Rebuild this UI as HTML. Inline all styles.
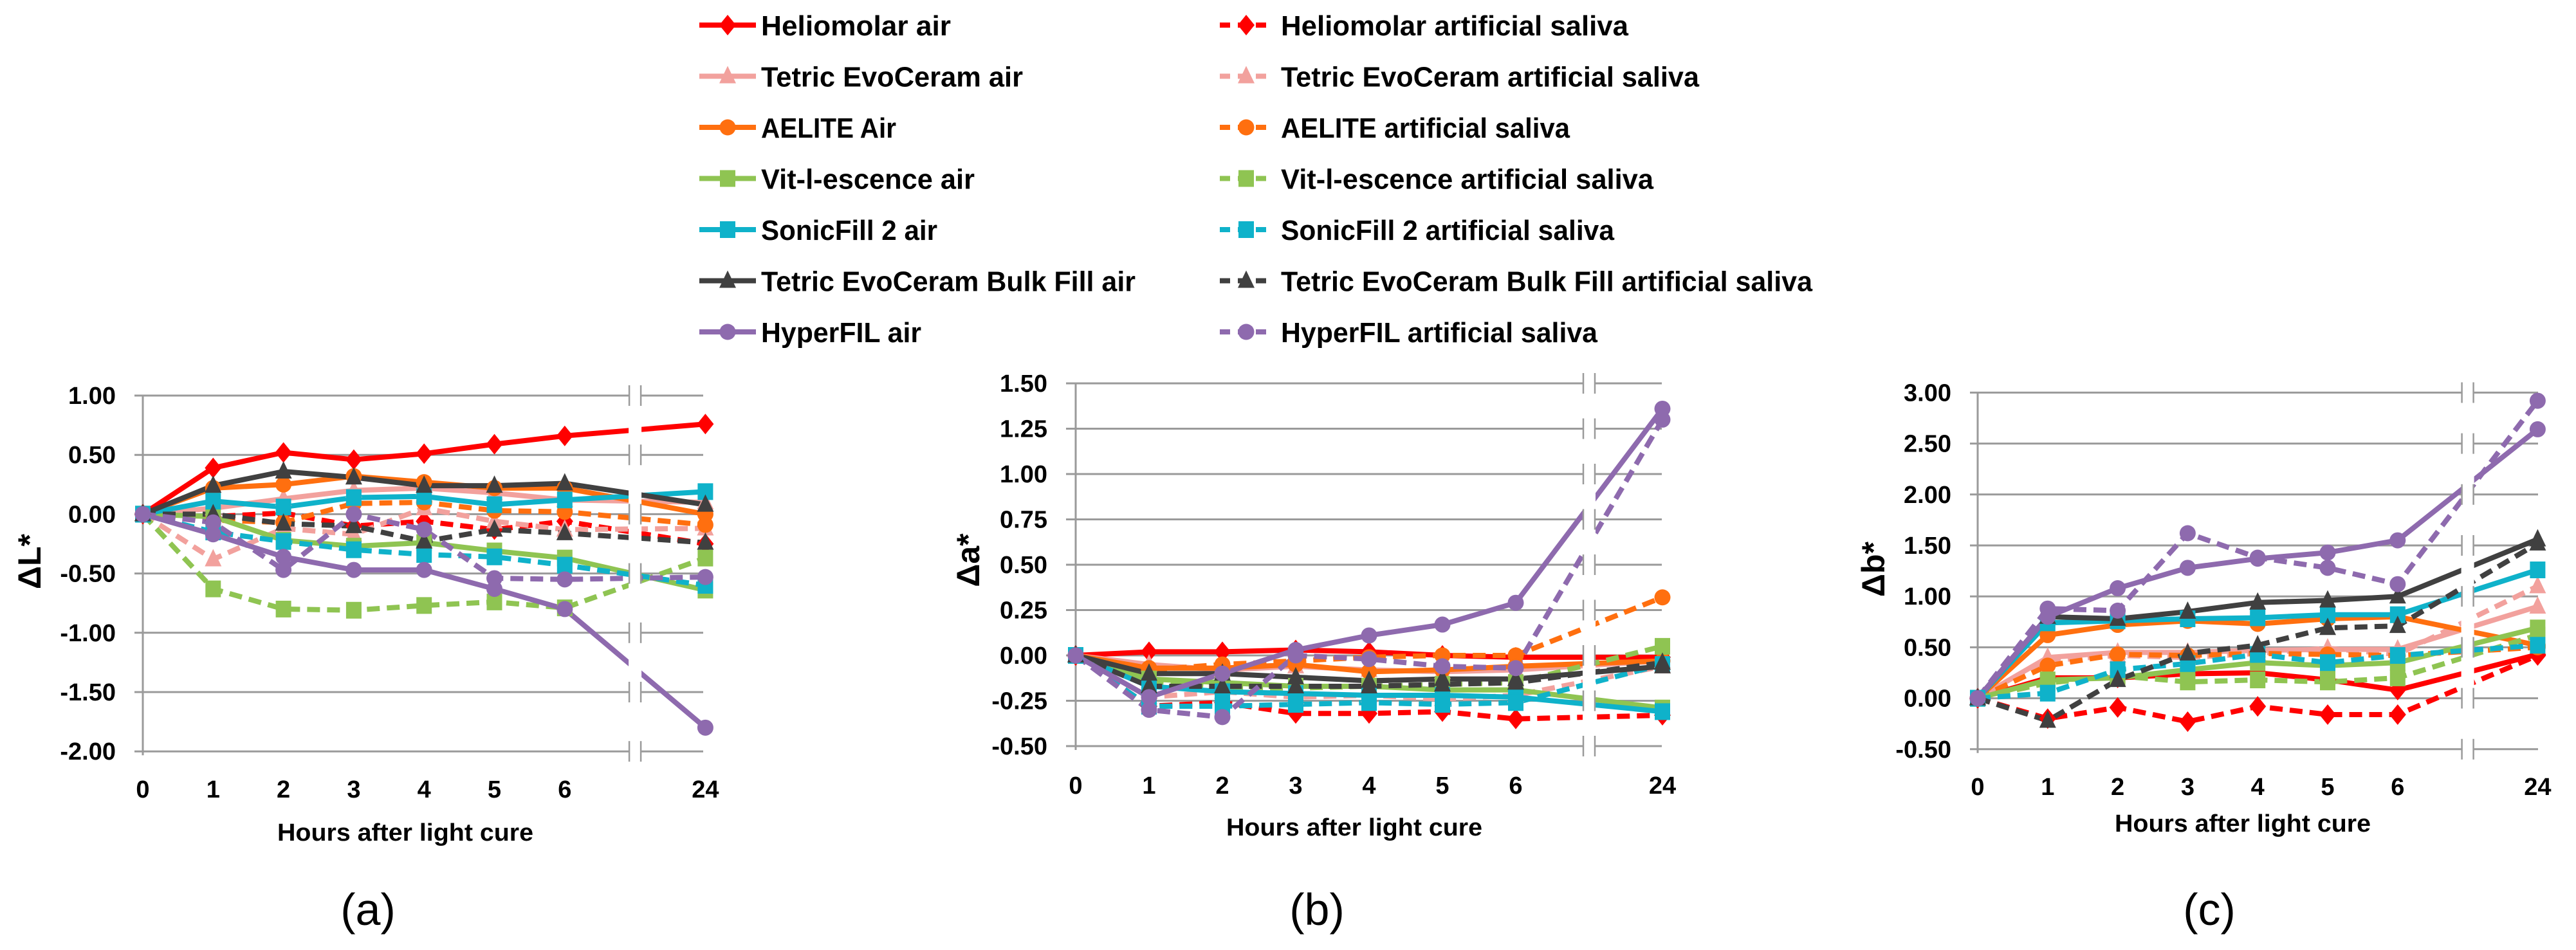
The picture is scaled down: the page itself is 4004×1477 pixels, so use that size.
<!DOCTYPE html>
<html><head><meta charset="utf-8">
<style>
html,body{margin:0;padding:0;background:#fff;}
svg{display:block;}
text{font-family:"Liberation Sans",Arial,sans-serif;}
</style></head>
<body>
<svg id="fig" xmlns="http://www.w3.org/2000/svg" width="4004" height="1477" viewBox="0 0 4004 1477">
<rect x="0" y="0" width="4004" height="1477" fill="#fff"/>
<g id="legend"></g>
<g id="panelA"></g>
<g id="panelB"></g>
<g id="panelC"></g>
</svg>
<script>
// ---- data ----
const categories = ["0","1","2","3","4","5","6","24"];
const seriesNames = ["Heliomolar air","Heliomolar artificial saliva","Tetric EvoCeram air","Tetric EvoCeram artificial saliva","AELITE Air","AELITE artificial saliva","Vit-l-escence air","Vit-l-escence artificial saliva","SonicFill 2 air","SonicFill 2 artificial saliva","Tetric EvoCeram Bulk Fill air","Tetric EvoCeram Bulk Fill artificial saliva","HyperFIL air","HyperFIL artificial saliva"];

// Panel (a) ΔL*
const L_helioAir = [0,0.39,0.52,0.46,0.51,0.59,0.66,0.76];
const L_helioSal = [0,-0.02,0.01,-0.10,-0.06,-0.13,-0.06,-0.25];
const L_tetricAir = [0,0.05,0.13,0.20,0.22,0.18,0.12,0.10];
const L_tetricSal = [0,-0.38,-0.12,-0.17,0.05,-0.06,-0.13,-0.12];
const L_aeliteAir = [0,0.22,0.25,0.32,0.27,0.22,0.22,0.00];
const L_aeliteSal = [0,-0.05,-0.07,0.09,0.10,0.03,0.02,-0.09];
const L_vitAir = [0,-0.02,-0.22,-0.27,-0.24,-0.31,-0.37,-0.64];
const L_vitSal = [0,-0.63,-0.80,-0.81,-0.77,-0.74,-0.79,-0.37];
const L_sonicAir = [0,0.11,0.06,0.14,0.15,0.08,0.12,0.19];
const L_sonicSal = [0,-0.15,-0.23,-0.30,-0.34,-0.36,-0.43,-0.60];
const L_bulkAir = [0,0.24,0.36,0.31,0.24,0.24,0.26,0.08];
const L_bulkSal = [0,0.00,-0.08,-0.10,-0.23,-0.13,-0.16,-0.24];
const L_hyperAir = [0,-0.17,-0.36,-0.47,-0.47,-0.63,-0.80,-1.80];
const L_hyperSal = [0,-0.07,-0.47,0.00,-0.13,-0.54,-0.55,-0.53];
const L_ticks = [1.00,0.50,0.00,-0.50,-1.00,-1.50,-2.00];

// Panel (b) Δa*
const A_helioAir = [0,0.02,0.02,0.03,0.02,0.00,-0.01,-0.01];
const A_helioSal = [0,-0.28,-0.26,-0.32,-0.32,-0.31,-0.35,-0.33];
const A_tetricAir = [0,-0.05,-0.08,-0.06,-0.08,-0.09,-0.08,-0.03];
const A_tetricSal = [0,-0.23,-0.20,-0.23,-0.22,-0.24,-0.22,-0.06];
const A_aeliteAir = [0,-0.07,-0.07,-0.05,-0.09,-0.08,-0.06,-0.03];
const A_aeliteSal = [0,-0.08,-0.05,-0.03,-0.01,0.00,0.00,0.32];
const A_vitAir = [0,-0.13,-0.15,-0.17,-0.17,-0.19,-0.19,-0.29];
const A_vitSal = [0,-0.15,-0.18,-0.18,-0.17,-0.16,-0.15,0.05];
const A_sonicAir = [0,-0.17,-0.20,-0.21,-0.22,-0.22,-0.23,-0.31];
const A_sonicSal = [0,-0.28,-0.28,-0.27,-0.26,-0.27,-0.26,-0.05];
const A_bulkAir = [0,-0.10,-0.10,-0.12,-0.14,-0.13,-0.13,-0.06];
const A_bulkSal = [0,-0.17,-0.17,-0.17,-0.17,-0.16,-0.15,-0.04];
const A_hyperAir = [0,-0.23,-0.10,0.03,0.11,0.17,0.29,1.36];
const A_hyperSal = [0,-0.30,-0.34,0.00,-0.02,-0.06,-0.07,1.30];
const A_ticks = [1.50,1.25,1.00,0.75,0.50,0.25,0.00,-0.25,-0.50];

// Panel (c) Δb*
const B_helioAir = [0,0.20,0.20,0.24,0.25,0.18,0.08,0.43];
const B_helioSal = [0,-0.20,-0.09,-0.23,-0.08,-0.16,-0.16,0.42];
const B_tetricAir = [0,0.40,0.45,0.45,0.47,0.48,0.48,0.90];
const B_tetricSal = [0,0.37,0.42,0.40,0.44,0.49,0.43,1.10];
const B_aeliteAir = [0,0.62,0.72,0.76,0.73,0.78,0.80,0.52];
const B_aeliteSal = [0,0.32,0.43,0.42,0.44,0.43,0.42,0.50];
const B_vitAir = [0,0.18,0.20,0.28,0.35,0.32,0.35,0.69];
const B_vitSal = [0,0.15,0.22,0.16,0.18,0.16,0.20,0.62];
const B_sonicAir = [0,0.74,0.76,0.78,0.79,0.82,0.82,1.26];
const B_sonicSal = [0,0.05,0.28,0.34,0.43,0.35,0.42,0.52];
const B_bulkAir = [0,0.80,0.78,0.85,0.94,0.96,1.00,1.56];
const B_bulkSal = [0,-0.22,0.18,0.44,0.52,0.69,0.71,1.52];
const B_hyperAir = [0,0.80,1.08,1.28,1.37,1.43,1.55,2.64];
const B_hyperSal = [0,0.88,0.86,1.62,1.38,1.28,1.12,2.92];
const B_ticks = [3.00,2.50,2.00,1.50,1.00,0.50,0.00,-0.50];

// ---- styles ----
const seriesColors = ["#FF0000","#FF0000","#F2A19D","#F2A19D","#FF6F0F","#FF6F0F","#8FC452","#8FC452","#0FB2CA","#0FB2CA","#404040","#404040","#8E6AAE","#8E6AAE"];
const seriesMarkers = ["diamond","diamond","triangle","triangle","circle","circle","square","square","square","square","triangle","triangle","circle","circle"];

const NS = "http://www.w3.org/2000/svg";
function mk(tag, attrs, parent){
  const e = document.createElementNS(NS, tag);
  for (const k in attrs) e.setAttribute(k, attrs[k]);
  parent.appendChild(e);
  return e;
}
function markerEl(type, x, y, color, parent, s){
  s = s || 1;
  let e;
  if (type === "diamond") e = mk("polygon",{points:`${x},${y-16*s} ${x+13*s},${y} ${x},${y+16*s} ${x-13*s},${y}`,fill:color},parent);
  else if (type === "triangle") e = mk("polygon",{points:`${x},${y-16*s} ${x+13*s},${y+11*s} ${x-13*s},${y+11*s}`,fill:color},parent);
  else if (type === "circle") e = mk("circle",{cx:x,cy:y,r:12.5*s,fill:color},parent);
  else e = mk("rect",{x:x-12*s,y:y-13*s,width:24*s,height:26*s,fill:color},parent);
  return e;
}

function drawPanel(g, cfg, data, ticks, letter){
  const xPos = i => cfg.x0 + (i < 7 ? i : i + 1) * cfg.step;
  const yPos = v => cfg.yZero - v * cfg.perUnit;
  const yTop = yPos(ticks[0]), yBot = yPos(ticks[ticks.length-1]);
  const bx = cfg.x0 + 7 * cfg.step;
  ticks.forEach(t => {
    const gl = mk("line",{x1:cfg.gx1,x2:cfg.gx2,y1:yPos(t),y2:yPos(t),stroke:"#9a9a9a","stroke-width":3},g);
    
    
    const tl = mk("text",{x:cfg.labelRight,y:yPos(t)+13,"text-anchor":"end","font-size":38,"font-weight":"bold",fill:"#000"},g);
    tl.textContent = t.toFixed(2);
    
    
  });
  const ax = mk("line",{x1:cfg.x0,x2:cfg.x0,y1:yTop,y2:yBot+6,stroke:"#9a9a9a","stroke-width":3},g);
  
  
  data.forEach((vals, si) => {
    const pts = vals.map((v,i)=>`${xPos(i)},${yPos(v)}`).join(" ");
    const attrs = {points:pts,fill:"none",stroke:seriesColors[si],"stroke-width":8,"stroke-linejoin":"round"};
    if (si % 2 === 1) attrs["stroke-dasharray"] = "20 11";
    const pl = mk("polyline",attrs,g);
    
    
  });
  data.forEach((vals, si) => {
    vals.forEach((v,i) => {
      const m = markerEl(seriesMarkers[si], xPos(i), yPos(v), seriesColors[si], g);
      
      
    });
  });
  const wr = mk("rect",{x:bx-10,y:yTop-20,width:20,height:yBot-yTop+40,fill:"#fff"},g);
  
  
  ticks.forEach(t => {
    [bx-9,bx+9].forEach(xx => {
      const bm = mk("line",{x1:xx,x2:xx,y1:yPos(t)-16,y2:yPos(t)+16,stroke:"#9a9a9a","stroke-width":2.5},g);
      
      
    });
  });
  categories.forEach((c,i) => {
    const xl = mk("text",{x:xPos(i),y:cfg.xLabelY+13,"text-anchor":"middle","font-size":38,"font-weight":"bold",fill:"#000"},g);
    xl.textContent = c;
    
    
  });
  const xt = mk("text",{x:cfg.xTitleX,y:cfg.xTitleY+13,"text-anchor":"middle","font-size":38,"font-weight":"bold",fill:"#000",textLength:398,lengthAdjust:"spacingAndGlyphs"},g);
  xt.textContent = "Hours after light cure";
  
  
  const yt = mk("text",{x:0,y:0,"text-anchor":"middle","font-size":50,"font-weight":"bold",fill:"#000",transform:`translate(${cfg.yTitleX+17},${cfg.yTitleY}) rotate(-90)`},g);
  yt.textContent = cfg.yTitle;
  
  
  const pl = mk("text",{x:cfg.letterX,y:1438,"text-anchor":"middle","font-size":70,fill:"#000","font-family":"Liberation Serif, serif"},g);
  pl.textContent = "(" + letter + ")";
  
  
}

drawPanel(document.getElementById("panelA"),
  {x0:222,step:109.3,gx1:209,gx2:1093,yZero:799.4,perUnit:184.4,labelRight:180,xLabelY:1227,xTitleX:630,xTitleY:1294,yTitleX:46,yTitleY:873,yTitle:"\u0394L*",letterX:572},
  [L_helioAir,L_helioSal,L_tetricAir,L_tetricSal,L_aeliteAir,L_aeliteSal,L_vitAir,L_vitSal,L_sonicAir,L_sonicSal,L_bulkAir,L_bulkSal,L_hyperAir,L_hyperSal], L_ticks, "a");
drawPanel(document.getElementById("panelB"),
  {x0:1672,step:114,gx1:1657,gx2:2583,yZero:1019,perUnit:282,labelRight:1628,xLabelY:1221,xTitleX:2105,xTitleY:1286,yTitleX:1505,yTitleY:871,yTitle:"\u0394a*",letterX:2047},
  [A_helioAir,A_helioSal,A_tetricAir,A_tetricSal,A_aeliteAir,A_aeliteSal,A_vitAir,A_vitSal,A_sonicAir,A_sonicSal,A_bulkAir,A_bulkSal,A_hyperAir,A_hyperSal], A_ticks, "b");
drawPanel(document.getElementById("panelC"),
  {x0:3074,step:108.8,gx1:3062,gx2:3945,yZero:1085.6,perUnit:158.4,labelRight:3033,xLabelY:1223,xTitleX:3486,xTitleY:1280,yTitleX:2912,yTitleY:885,yTitle:"\u0394b*",letterX:3434},
  [B_helioAir,B_helioSal,B_tetricAir,B_tetricSal,B_aeliteAir,B_aeliteSal,B_vitAir,B_vitSal,B_sonicAir,B_sonicSal,B_bulkAir,B_bulkSal,B_hyperAir,B_hyperSal], B_ticks, "c");

// ---- legend ----
const legendTextWidths = [295,540,407,650,210,449,332,579,274,518,582,826,249,492];
const lg = document.getElementById("legend");
seriesNames.forEach((name, si) => {
  const row = Math.floor(si/2), col = si % 2;
  const cy = 39 + row * 79.5;
  const lx1 = col ? 1896 : 1087, lx2 = col ? 1977 : 1175, mx = col ? 1937 : 1131, tx = col ? 1991 : 1183;
  const item = mk("g",{},lg);
  
  
  const la = {x1:lx1,x2:lx2,y1:cy,y2:cy,stroke:seriesColors[si],"stroke-width":8};
  if (col) la["stroke-dasharray"] = "16 12";
  mk("line",la,item);
  markerEl(seriesMarkers[si], mx, cy, seriesColors[si], item);
  const t = mk("text",{x:tx,y:cy+16,"font-size":44,"font-weight":"bold",fill:"#000",textLength:legendTextWidths[si],lengthAdjust:"spacingAndGlyphs"},item);
  t.textContent = name;
  
  
});
</script>
</body></html>
